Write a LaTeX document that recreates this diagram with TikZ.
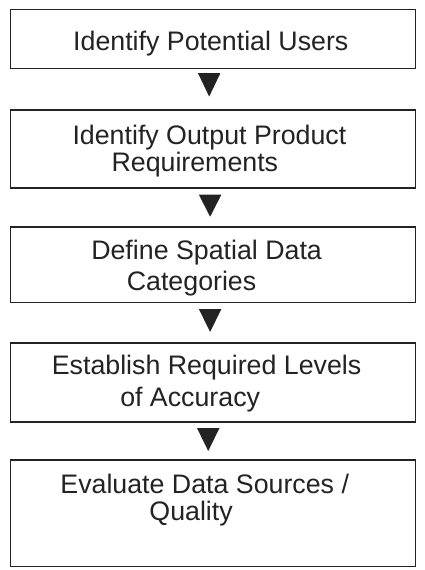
\documentclass[tikz,border=0pt]{standalone}
\usepackage{fontspec}
\setmainfont{Liberation Sans}

\definecolor{ink}{HTML}{232323}

\tikzset{
  stepbox/.style={draw=ink, line width=1.6pt, rectangle, inner sep=0pt,
                  minimum width=431.5pt},
  txt/.style={anchor=base, inner sep=0pt, text=ink,
              font=\fontsize{28.5pt}{30pt}\selectfont},
  flow/.style={fill=ink, draw=none},
}

\begin{document}
\begin{tikzpicture}[x=1pt,y=1pt]
  \useasboundingbox (0,0) rectangle (451.6,-607);
  \fill[white] (0,0) rectangle (451.6,-607);

  % process boxes
  \node[stepbox, minimum height=63pt]  (b1) at (226.75,-41.5) {};
  \node[stepbox, minimum height=83pt]  (b2) at (226.75,-158.5) {};
  \node[stepbox, minimum height=80pt]  (b3) at (226.75,-282) {};
  \node[stepbox, minimum height=84pt]  (b4) at (226.75,-407.5) {};
  \node[stepbox, minimum height=113pt] (b5) at (226.75,-546.5) {};

  % box captions, one node per line
  \node[txt] (t1)  at (224.5,-53.3)  {Identify Potential Users};
  \node[txt] (t2a) at (223,-154.3)   {Identify Output Product};
  \node[txt] (t2b) at (207.5,-182.7) {Requirements};
  \node[txt] (t3a) at (220,-276.5)   {Define Spatial Data};
  \node[txt] (t3b) at (204,-309)     {Categories};
  \node[txt] (t4a) at (220,-399.3)   {Establish Required Levels};
  \node[txt] (t4b) at (202.5,-432.7) {of Accuracy};
  \node[txt] (t5a) at (218,-526)     {Evaluate Data Sources /};
  \node[txt] (t5b) at (203.5,-554)   {Quality};

  % solid downward triangles between successive steps
  \fill[flow] (b1.south) ++(-16,-4)   -- ++(24,0) -- ++(-12,-25) -- cycle;
  \fill[flow] (b2.south) ++(-15,-6.5) -- ++(24,0) -- ++(-12,-23.5) -- cycle;
  \fill[flow] (b3.south) ++(-15,-6.3) -- ++(24,0) -- ++(-12,-24.4) -- cycle;
  \fill[flow] (b4.south) ++(-17,-5.5) -- ++(24,0) -- ++(-12,-24.5) -- cycle;
\end{tikzpicture}
\end{document}
